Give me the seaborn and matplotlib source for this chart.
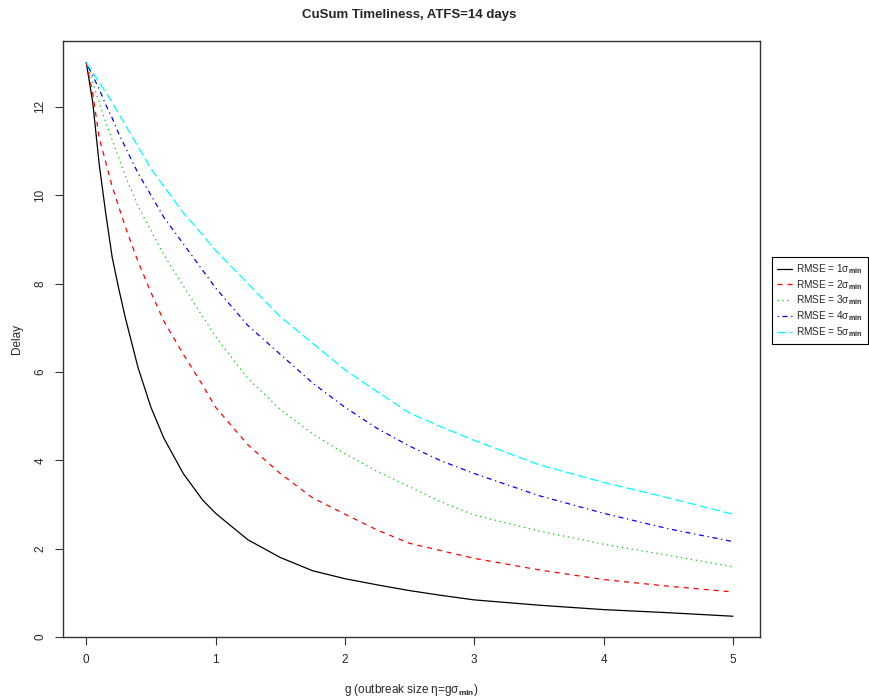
import numpy as np
import pandas as pd
import seaborn as sns
import matplotlib
matplotlib.use("Agg")
import matplotlib.pyplot as plt

g = [0, 0.05, 0.1, 0.15, 0.2, 0.25, 0.3, 0.4, 0.5, 0.6, 0.75, 0.9, 1.0, 1.25, 1.5, 1.75, 2.0, 2.25, 2.5, 2.75, 3.0, 3.5, 4.0, 4.5, 5.0]
rmse1 = [13, 12.1, 10.7, 9.6, 8.6, 7.9, 7.25, 6.1, 5.2, 4.5, 3.7, 3.1, 2.8, 2.2, 1.8, 1.5, 1.32, 1.18, 1.05, 0.94, 0.84, 0.72, 0.62, 0.55, 0.47]
rmse2 = [13, 12.3, 11.3, 10.75, 10.2, 9.75, 9.3, 8.5, 7.8, 7.15, 6.4, 5.7, 5.2, 4.35, 3.7, 3.15, 2.78, 2.42, 2.12, 1.95, 1.78, 1.52, 1.3, 1.15, 1.02]
rmse3 = [13, 12.55, 12.1, 11.65, 11.25, 10.85, 10.45, 9.75, 9.2, 8.65, 7.95, 7.25, 6.8, 5.85, 5.15, 4.6, 4.15, 3.75, 3.4, 3.05, 2.76, 2.4, 2.1, 1.85, 1.59]
rmse4 = [13, 12.7, 12.4, 12.05, 11.75, 11.4, 11.1, 10.5, 10.0, 9.5, 8.9, 8.3, 7.9, 7.05, 6.4, 5.75, 5.2, 4.72, 4.32, 3.98, 3.7, 3.2, 2.8, 2.45, 2.16]
rmse5 = [13, 12.78, 12.55, 12.33, 12.1, 11.85, 11.6, 11.1, 10.6, 10.2, 9.6, 9.1, 8.75, 8.0, 7.25, 6.65, 6.05, 5.55, 5.07, 4.75, 4.45, 3.9, 3.5, 3.15, 2.78]
series_labels = [r"RMSE = 1$\sigma_{\mathbf{min}}$", r"RMSE = 2$\sigma_{\mathbf{min}}$",
                 r"RMSE = 3$\sigma_{\mathbf{min}}$", r"RMSE = 4$\sigma_{\mathbf{min}}$",
                 r"RMSE = 5$\sigma_{\mathbf{min}}$"]
series = [rmse1, rmse2, rmse3, rmse4, rmse5]

colors = ["black", "#FF0000", "#00CD00", "#0000FF", "#00FFFF"]
dashes = [None, (4, 4), (1, 3), (1, 3, 4, 3), (7, 3)]

sns.set_style("white")
plt.rcParams["font.family"] = ["Liberation Sans", "DejaVu Sans"]
plt.rcParams["mathtext.fontset"] = "custom"
plt.rcParams["mathtext.rm"] = "Liberation Sans"
plt.rcParams["mathtext.it"] = "Liberation Sans"
plt.rcParams["mathtext.bf"] = "Liberation Sans:bold"

fig = plt.figure(figsize=(8.69, 6.98), dpi=100)
ax = fig.add_axes([63/869, 1-637/698, (760-63)/869, (637-41)/698])

handles = []
for vals, lab, c, d in zip(series, series_labels, colors, dashes):
    df = pd.DataFrame({"g": g, "delay": vals})
    sns.lineplot(data=df, x="g", y="delay", ax=ax, color=c, lw=0.9, label=lab)
    line = ax.get_lines()[-1]
    if d is not None:
        line.set_dashes(d)
    handles.append(line)

if ax.legend_ is not None:
    ax.legend_.remove()
ax.set_xlim(-0.18, 5.21)
ax.set_ylim(0, 13.49)
ax.set_xticks([0, 1, 2, 3, 4, 5])
ax.set_yticks([0, 2, 4, 6, 8, 10, 12])
ax.set_xticklabels(["0", "1", "2", "3", "4", "5"])
ax.set_yticklabels(["0", "2", "4", "6", "8", "10", "12"], rotation=90, va="center")
ax.tick_params(axis="both", direction="out", length=6, width=0.8, color="#333333",
               labelsize=8.5, pad=6, bottom=True, left=True)
for s in ax.spines.values():
    s.set_visible(True)
    s.set_color("#333333")
    s.set_linewidth(1.0)

ax.set_xlabel(r"g (outbreak size $\eta$=g$\sigma_{\mathbf{min}}$)", fontsize=8.5, labelpad=12)
ax.set_ylabel("Delay", fontsize=8.5, labelpad=8)
fig.text(409/869, 1-15/698, "CuSum Timeliness, ATFS=14 days", ha="center", va="center",
         fontsize=9.5, fontweight="bold")

leg = fig.legend(handles=handles, labels=series_labels, loc="upper left",
                 bbox_to_anchor=(772/869, 1-257/698), fontsize=7.2, frameon=True,
                 fancybox=False, edgecolor="black", framealpha=1, handlelength=1.5,
                 borderpad=0.5, labelspacing=0.2, handletextpad=0.45, borderaxespad=0)
leg.get_frame().set_linewidth(0.8)

fig.savefig("out.png", dpi=100)
